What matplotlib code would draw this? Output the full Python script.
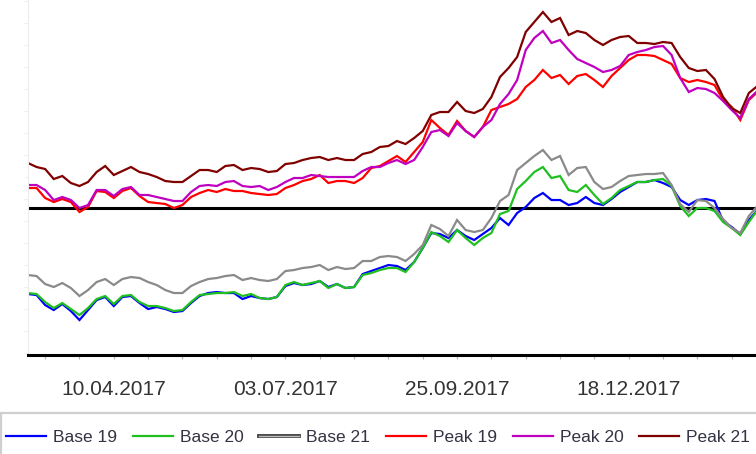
import numpy as np
import pandas as pd
import matplotlib
matplotlib.use("Agg")
import matplotlib.pyplot as plt
from matplotlib.lines import Line2D
from matplotlib.ticker import FixedLocator, FuncFormatter
import matplotlib.patheffects as pe

plt.rcParams['font.family'] = ['Liberation Sans', 'DejaVu Sans']

# trading days, one sample every 3rd day
trade_days = pd.bdate_range("2017-02-27", periods=260)
step = 3

base19 = [-8.6, -8.7, -9.7, -10.2, -9.6, -10.3, -11.2, -10.2, -9.2, -8.9,
          -9.8, -8.9, -8.8, -9.5, -10.1, -9.9, -10.1, -10.4, -10.3, -9.5,
          -8.8, -8.5, -8.4, -8.5, -8.5, -9.1, -8.8, -9.0, -9.1, -8.9,
          -7.8, -7.5, -7.7, -7.6, -7.3, -7.9, -7.6, -8.0, -7.9, -6.6,
          -6.3, -6.0, -5.7, -5.8, -6.2, -5.4, -4.0, -2.5, -2.6, -3.0,
          -2.2, -2.8, -3.2, -2.6, -2.0, -1.0, -1.7, -0.5, 0.1, 1.0,
          1.5, 0.8, 0.8, 0.3, 0.5, 1.1, 0.5, 0.3, 0.9, 1.6,
          2.1, 2.6, 2.6, 2.8, 2.5, 2.1, 0.8, 0.3, 0.8, 0.9,
          0.7, -1.3, -1.9, -2.6, -1.2, -0.2]
base20 = [-8.5, -8.6, -9.4, -10.0, -9.5, -10.1, -10.7, -10.0, -9.1, -8.8,
          -9.6, -8.8, -8.7, -9.4, -9.8, -9.8, -10.0, -10.3, -10.2, -9.4,
          -8.7, -8.6, -8.5, -8.5, -8.4, -8.8, -8.6, -9.0, -9.1, -8.9,
          -7.7, -7.4, -7.7, -7.5, -7.3, -8.0, -7.6, -8.0, -7.9, -6.7,
          -6.5, -6.2, -6.0, -6.0, -6.4, -5.4, -4.0, -2.4, -2.8, -3.4,
          -2.2, -3.0, -3.7, -3.0, -2.5, -0.6, -0.3, 1.9, 2.7, 3.6,
          4.1, 3.0, 3.2, 1.8, 1.6, 2.3, 1.3, 0.4, 1.0, 1.8,
          2.2, 2.6, 2.6, 2.8, 2.9, 2.2, 0.2, -0.8, 0.0, 0.0,
          -0.3, -1.4, -2.0, -2.7, -1.4, -0.2]
base21 = [-6.7, -6.8, -7.6, -7.9, -7.5, -8.0, -8.8, -8.2, -7.4, -7.1,
          -7.7, -7.1, -6.9, -7.0, -7.4, -7.7, -8.2, -8.5, -8.5, -7.8,
          -7.4, -7.1, -7.0, -6.8, -6.7, -7.2, -7.0, -7.2, -7.3, -7.1,
          -6.3, -6.2, -6.0, -5.9, -5.7, -6.2, -5.9, -6.1, -6.0, -5.3,
          -5.3, -4.9, -4.8, -4.9, -5.3, -4.6, -3.7, -1.7, -2.1, -2.8,
          -1.2, -2.2, -2.4, -2.2, -1.0, 0.7, 1.3, 3.8, 4.5, 5.2,
          5.8, 4.8, 5.2, 3.3, 4.0, 4.1, 2.6, 1.9, 2.1, 2.7,
          3.2, 3.3, 3.4, 3.4, 3.5, 2.3, 0.4, -0.4, 0.8, 0.7,
          0.0, -1.1, -2.0, -2.5, -0.8, 0.2]
peak19 = [2.0, 2.0, 1.0, 0.6, 0.9, 0.6, -0.4, 0.1, 1.7, 1.6,
          1.0, 1.7, 2.0, 1.2, 0.6, 0.5, 0.4, 0.0, 0.3, 1.1,
          1.5, 1.8, 1.6, 1.9, 1.7, 1.7, 1.5, 1.4, 1.3, 1.4,
          2.0, 2.3, 2.7, 2.9, 3.3, 2.5, 2.7, 2.7, 2.5, 3.0,
          4.0, 4.2, 4.7, 5.2, 4.6, 5.6, 6.6, 8.8, 8.0, 7.3,
          8.7, 7.7, 7.1, 8.1, 9.8, 10.1, 10.4, 10.9, 12.1, 12.8,
          13.8, 13.0, 13.3, 12.4, 13.2, 13.4, 12.8, 12.1, 13.2, 14.0,
          14.8, 15.3, 15.3, 15.2, 14.8, 14.4, 13.0, 12.6, 12.8, 12.6,
          12.3, 10.8, 10.1, 8.8, 10.8, 11.6]
peak20 = [2.3, 2.3, 1.8, 0.8, 1.1, 0.8, 0.0, 0.3, 1.8, 1.8,
          1.2, 1.9, 2.1, 1.3, 1.3, 1.1, 0.9, 0.7, 0.7, 1.6,
          2.2, 2.3, 2.2, 2.6, 2.7, 2.2, 2.1, 2.2, 1.8, 2.1,
          2.6, 3.0, 3.0, 3.3, 3.2, 3.1, 3.1, 3.1, 3.1, 3.7,
          4.1, 4.1, 4.5, 4.8, 4.4, 4.8, 6.1, 7.6, 7.8, 7.2,
          8.5, 7.7, 7.1, 8.1, 8.8, 10.4, 11.4, 12.8, 15.8, 17.0,
          17.7, 16.5, 16.8, 15.8, 14.9, 14.5, 14.1, 13.6, 13.8, 14.2,
          15.3, 15.6, 15.8, 16.1, 16.2, 15.3, 13.0, 11.6, 12.0, 11.9,
          11.5, 10.7, 9.8, 9.0, 10.9, 11.7]
peak21 = [4.5, 4.1, 3.9, 2.9, 3.2, 2.5, 2.2, 2.6, 3.6, 4.2,
          3.3, 3.7, 4.1, 3.6, 3.4, 3.1, 2.7, 2.6, 2.6, 3.2,
          3.8, 3.8, 3.6, 4.2, 4.3, 3.8, 4.0, 3.9, 3.6, 3.7,
          4.4, 4.5, 4.8, 5.0, 5.1, 4.8, 5.0, 4.8, 4.8, 5.4,
          5.6, 6.1, 6.2, 6.7, 6.4, 7.0, 7.7, 9.3, 9.6, 9.6,
          10.6, 9.7, 9.5, 9.9, 11.1, 13.1, 14.0, 15.1, 17.6, 18.6,
          19.6, 18.6, 19.0, 17.3, 17.7, 17.5, 16.8, 16.3, 16.8, 17.1,
          17.2, 16.5, 16.5, 16.4, 16.6, 16.5, 15.1, 14.0, 13.7, 13.8,
          12.9, 11.1, 10.0, 9.5, 11.5, 12.2]

names = ["Base 19", "Base 20", "Base 21", "Peak 19", "Peak 20", "Peak 21"]
colors = ["#0000ff", "#1fc01f", "#8a8a8a", "#ff0000", "#c000c0", "#800000"]
series = [base19, base20, base21, peak19, peak20, peak21]

x = np.arange(len(base19)) * step

fig = plt.figure(figsize=(7.56, 4.54), dpi=100)
ax = fig.add_axes([0.037, 0.218, 0.963, 0.782])

for vals, c in zip(series, colors):
    ax.plot(x, vals, color=c, lw=1.6, solid_joinstyle="miter")

ax.axhline(0, color="black", lw=2.2, zorder=1)

ax.set_xlim(0, 254.5)
ax.set_ylim(-14.7, 20.8)

for s in ["top", "right"]:
    ax.spines[s].set_visible(False)
ax.spines["bottom"].set_color("black")
ax.spines["bottom"].set_linewidth(2.2)
ax.spines["left"].set_color("#ececec")
ax.spines["left"].set_linewidth(0.8)

major = [30, 90, 150, 210]
ax.xaxis.set_major_locator(FixedLocator(major))
ax.xaxis.set_minor_locator(FixedLocator(np.arange(6, 255, 12)))
ax.xaxis.set_major_formatter(
    FuncFormatter(lambda v, p: trade_days[int(round(v))].strftime("%d.%m.%Y")))
ax.tick_params(axis="x", which="both", length=3, width=0.8, color="#b0b0b0",
               labelsize=15, labelcolor="#333333", pad=15)
ax.yaxis.set_major_locator(FixedLocator(np.arange(-14.5, 21, 2.2)))
ax.tick_params(axis="y", length=3, width=0.6, color="#ececec", labelleft=False)

# legend box (top and left edges visible)
fig.add_artist(Line2D([0.0015, 1], [0.0903, 0.0903], transform=fig.transFigure,
                      color="#cfcfcf", lw=1.6))
fig.add_artist(Line2D([0.0015, 0.0015], [0, 0.0903], transform=fig.transFigure,
                      color="#cfcfcf", lw=1.6))
handles = []
for n, c in zip(names, colors):
    if n == "Base 21":
        h = Line2D([], [], color="#bdbdbd", lw=1.0,
                   path_effects=[pe.Stroke(linewidth=2.8, foreground="#444444"),
                                 pe.Normal()])
    else:
        h = Line2D([], [], color=c, lw=1.6)
    handles.append(h)
fig.legend(handles, names, loc="center", bbox_to_anchor=(0.5, 0.036), ncol=6,
           frameon=False, fontsize=12.5, handlelength=2.3, handletextpad=0.4,
           columnspacing=0.92, labelcolor="#333344")

fig.savefig("out.png", dpi=100)
